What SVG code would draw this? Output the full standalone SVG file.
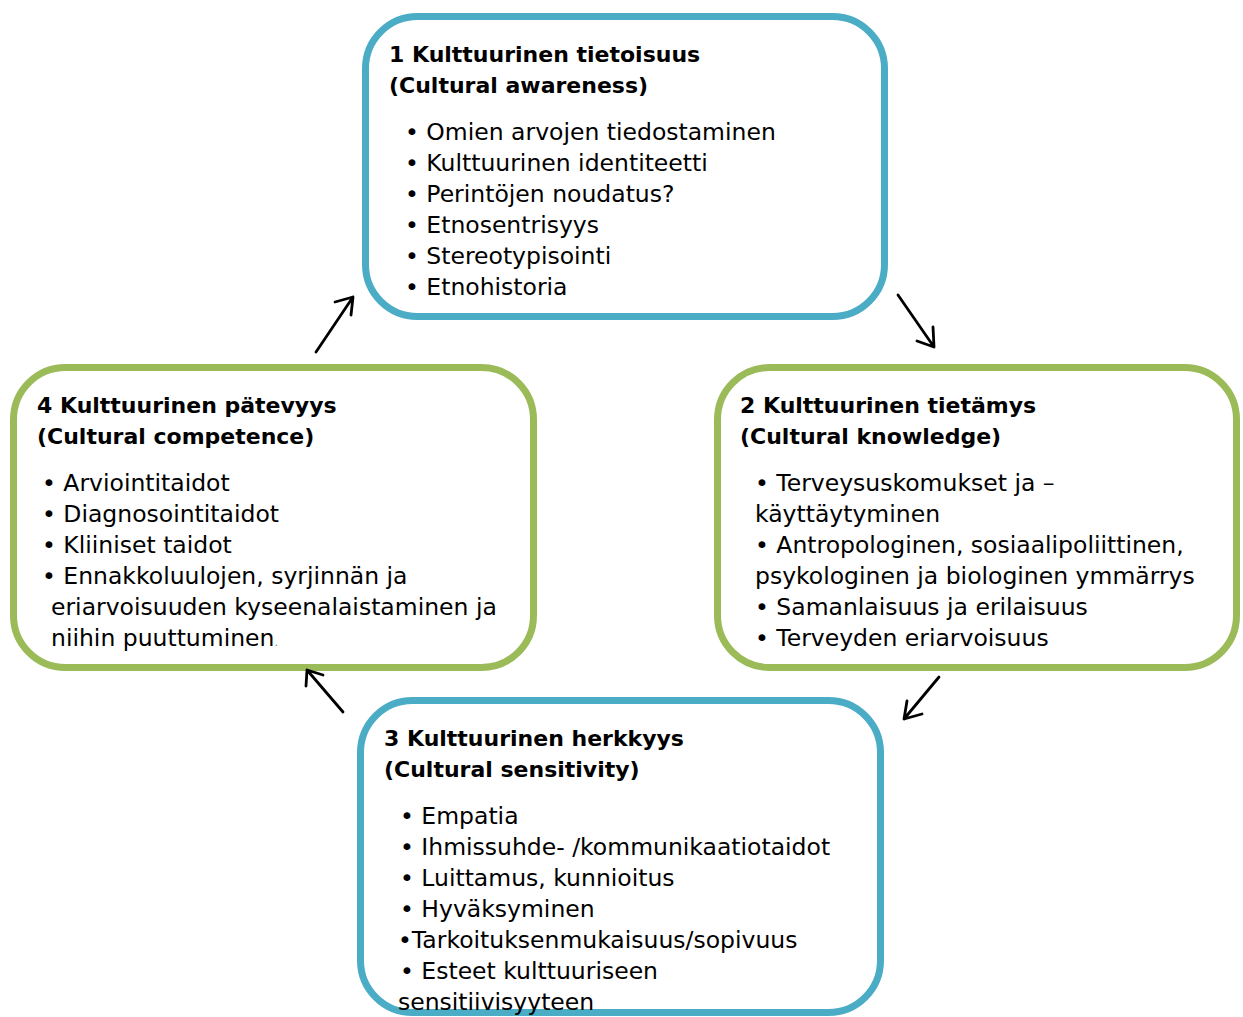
<svg xmlns="http://www.w3.org/2000/svg" width="1243" height="1017" viewBox="0 0 1243 1017">
<style>
.blue{fill:#fff;stroke:#4BACC6;stroke-width:7}
.green{fill:#fff;stroke:#9BBB59;stroke-width:7}
text{font-family:"DejaVu Sans",sans-serif;font-size:23.5px;fill:#000}
.t{font-weight:bold;font-size:22px}
.arr{fill:none;stroke:#000;stroke-width:2.8;stroke-linecap:round;stroke-linejoin:round}
</style>
<rect width="1243" height="1017" fill="#fff"/>
<g id="node1">
<rect class="blue" x="365.5" y="16.5" width="519" height="300" rx="52"/>
<text class="t" x="389" y="62">1 Kulttuurinen tietoisuus</text>
<text class="t" x="389" y="93">(Cultural awareness)</text>
<text x="405" y="140">• Omien arvojen tiedostaminen</text>
<text x="405" y="171">• Kulttuurinen identiteetti</text>
<text x="405" y="202">• Perintöjen noudatus?</text>
<text x="405" y="233">• Etnosentrisyys</text>
<text x="405" y="264">• Stereotypisointi</text>
<text x="405" y="295">• Etnohistoria</text>
</g>
<g id="node2">
<rect class="green" x="717.5" y="367.5" width="519" height="300" rx="52"/>
<text class="t" x="740" y="413">2 Kulttuurinen tietämys</text>
<text class="t" x="740" y="444">(Cultural knowledge)</text>
<text x="755" y="491">• Terveysuskomukset ja –</text>
<text x="755" y="522">käyttäytyminen</text>
<text x="755" y="553">• Antropologinen, sosiaalipoliittinen,</text>
<text x="755" y="584">psykologinen ja biologinen ymmärrys</text>
<text x="755" y="615">• Samanlaisuus ja erilaisuus</text>
<text x="755" y="646">• Terveyden eriarvoisuus</text>
</g>
<g id="node3">
<rect class="blue" x="360.5" y="700.5" width="520" height="312" rx="52"/>
<text class="t" x="384" y="746">3 Kulttuurinen herkkyys</text>
<text class="t" x="384" y="777">(Cultural sensitivity)</text>
<text x="400" y="824">• Empatia</text>
<text x="400" y="855">• Ihmissuhde- /kommunikaatiotaidot</text>
<text x="400" y="886">• Luittamus, kunnioitus</text>
<text x="400" y="917">• Hyväksyminen</text>
<text x="398" y="948">•Tarkoituksenmukaisuus/sopivuus</text>
<text x="400" y="979">• Esteet kulttuuriseen</text>
<text x="398" y="1010">sensitiivisyyteen</text>
</g>
<g id="node4">
<rect class="green" x="13.5" y="367.5" width="520" height="300" rx="52"/>
<text class="t" x="37" y="413">4 Kulttuurinen pätevyys</text>
<text class="t" x="37" y="444">(Cultural competence)</text>
<text x="42" y="491">• Arviointitaidot</text>
<text x="42" y="522">• Diagnosointitaidot</text>
<text x="42" y="553">• Kliiniset taidot</text>
<text x="42" y="584">• Ennakkoluulojen, syrjinnän ja</text>
<text x="51" y="615">eriarvoisuuden kyseenalaistaminen ja</text>
<text x="51" y="646">niihin puuttuminen<tspan font-size="11" fill="#777">.</tspan></text>
</g>
<g id="connectors">
<path class="arr" d="M898,295 L934,347 M917,341 L934,347 L933,327"/>
<path class="arr" d="M939,677 L904,719 M907,701 L904,719 L922,714"/>
<path class="arr" d="M343,712 L307,670 M306,686 L307,670 L323,675"/>
<path class="arr" d="M316,352 L353,297 M335,302 L353,297 L351,315"/>
</g>
</svg>
